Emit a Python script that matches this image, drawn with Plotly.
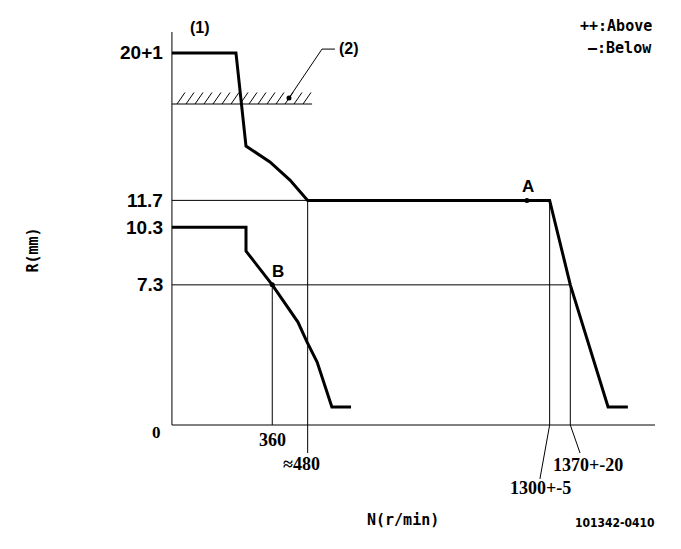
import plotly.graph_objects as go

# ---------------- data (diagram units: N in r/min, R in mm) ----------------
X_RANGE = [-535.5, 1772.2]
Y_RANGE = [-6.875, 21.72]

axis_n0, axis_n1 = 20, 1657
axis_r1 = 20.47

# upper characteristic (full load)
upper_n = [20, 237, 271, 352, 420, 480, 1300, 1370, 1498, 1565]
upper_r = [19.38, 19.38, 14.53, 13.70, 12.76, 11.7, 11.7, 7.3, 0.94, 0.94]

# lower characteristic
lower_n = [20, 271, 271, 360, 447, 478, 512, 562, 627]
lower_r = [10.3, 10.3, 9.06, 7.3, 5.36, 4.32, 3.28, 0.94, 0.94]

# marked points
point_labels = ["A", "B"]
point_n = [1223, 360]
point_r = [11.7, 7.3]

# reference levels / speeds
y_tick_vals = [19.38, 11.7, 10.3, 7.3, 0]
y_tick_text = ["20+1", "11.7", "10.3", "7.3", "0"]

# stop (2) hatch line
stop_r = 16.72
stop_n = [20, 495]

LINE = "#000000"
fig = go.Figure()


def seg(xs, ys, w=1.0):
    fig.add_trace(go.Scatter(x=xs, y=ys, mode="lines",
                             line=dict(color=LINE, width=w),
                             hoverinfo="skip", showlegend=False))


# axes
seg([axis_n0, axis_n0], [axis_r1, 0])
seg([axis_n0, axis_n1], [0, 0])

# reference grid lines
seg([20, 1300], [11.7, 11.7])
seg([20, 1370], [7.3, 7.3])
seg([360, 360], [7.3, 0])
seg([480, 480], [11.7, -1.46])
seg([1300, 1300, 1267], [11.7, 0, -2.81])
seg([1370, 1370, 1403], [7.3, 0, -1.46])

# stop line with hatching
seg(stop_n, [stop_r, stop_r])
hx, hy = [], []
start = 37.3
while start + 23.7 <= stop_n[1] + 2:
    hx += [start, start + 27.0, None]
    hy += [stop_r, stop_r + 0.6, None]
    start += 30.5
seg(hx, hy, 1.0)

# leader for (2)
seg([416.7, 528.5, 572.5], [17.03, 19.58, 19.58])
fig.add_trace(go.Scatter(x=[416.7], y=[17.03], mode="markers",
                         marker=dict(color=LINE, size=5),
                         hoverinfo="skip", showlegend=False))

# characteristics
seg(upper_n, upper_r, 3)
seg(lower_n, lower_r, 3)

fig.add_trace(go.Scatter(x=point_n, y=point_r, mode="markers",
                         marker=dict(color=LINE, size=5),
                         hoverinfo="skip", showlegend=False))

ann = []
TICKF = dict(family="Liberation Sans, Arial", size=19, color=LINE, weight="bold")
for v, t in zip(y_tick_vals[:-1], y_tick_text[:-1]):
    ann.append(dict(x=-3, y=v, text=t, xanchor="right", yanchor="middle",
                    showarrow=False, font=TICKF))
ann.append(dict(x=-9, y=-0.38, text="0", xanchor="right", yanchor="middle",
                showarrow=False,
                font=dict(family="Liberation Serif", size=17, color=LINE, weight="bold")))

SERIF = dict(family="Liberation Serif, DejaVu Serif", size=18, color=LINE, weight="bold")
ann += [
    dict(x=360, y=-0.78, text="360", xanchor="center", yanchor="middle", showarrow=False, font=SERIF),
    dict(x=460, y=-2.05, text="≈480", xanchor="center", yanchor="middle", showarrow=False, font=SERIF),
    dict(x=1430, y=-2.10, text="1370+-20", xanchor="center", yanchor="middle", showarrow=False, font=SERIF),
    dict(x=1270, y=-3.28, text="1300+-5", xanchor="center", yanchor="middle", showarrow=False, font=SERIF),
]

LBL = dict(family="Liberation Sans, Arial", size=17, color=LINE, weight="bold")
ann.append(dict(x=1227, y=12.4, text="A", xanchor="center", yanchor="middle", showarrow=False, font=LBL))
ann.append(dict(x=380, y=8.0, text="B", xanchor="center", yanchor="middle", showarrow=False, font=LBL))

PAR = dict(family="Liberation Sans, DejaVu Sans", size=16, color=LINE, weight="bold")
ann.append(dict(x=115, y=20.73, text="(1)", xanchor="center", yanchor="middle", showarrow=False, font=PAR))
ann.append(dict(x=580, y=19.6, text="(2)", xanchor="left", yanchor="middle", showarrow=False, font=PAR))

MONO = dict(family="DejaVu Sans Mono, Liberation Mono", size=15, color=LINE, weight="bold")
ann.append(dict(x=1653, y=20.78, text="++:Above", xanchor="right", yanchor="middle", showarrow=False, font=MONO))
ann.append(dict(x=1653, y=19.62, text="—:Below", xanchor="right", yanchor="middle", showarrow=False, font=MONO))
ann.append(dict(x=803, y=-4.95, text="N(r/min)", xanchor="center", yanchor="middle", showarrow=False,
                font=dict(family="DejaVu Sans Mono", size=15, color=LINE, weight="bold")))
ann.append(dict(x=1522, y=-5.1, text="101342-0410", xanchor="center", yanchor="middle", showarrow=False,
                font=dict(family="DejaVu Sans Condensed, DejaVu Sans", size=12, color=LINE, weight="bold")))
ann.append(dict(x=-450, y=9.1, text="R(mm)", xanchor="center", yanchor="middle", textangle=-90,
                showarrow=False, font=dict(family="DejaVu Sans Mono", size=15, color=LINE, weight="bold")))

fig.update_layout(
    width=681, height=549,
    margin=dict(l=0, r=0, t=0, b=0),
    paper_bgcolor="white", plot_bgcolor="white",
    xaxis=dict(range=X_RANGE, visible=False, fixedrange=True),
    yaxis=dict(range=Y_RANGE, visible=False, fixedrange=True),
    annotations=ann,
    showlegend=False,
)

fig.write_html("out.html")
